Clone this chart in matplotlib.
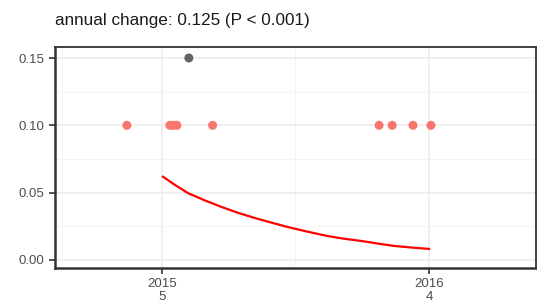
import numpy as np
import matplotlib
matplotlib.use("Agg")
import matplotlib.pyplot as plt
from matplotlib.ticker import MultipleLocator

# observed points (decimal year, value)
obs_year = [2014.869, 2015.030, 2015.041, 2015.056, 2015.190,
            2015.813, 2015.862, 2015.940, 2016.007]
obs_value = [0.10] * 9
flag_year = [2015.101]
flag_value = [0.15]

# fitted trend
fit_year = [2015.004, 2015.050, 2015.097, 2015.160, 2015.224, 2015.285,
            2015.347, 2015.410, 2015.470, 2015.545, 2015.619, 2015.680,
            2015.746, 2015.810, 2015.869, 2015.935, 2016.000]
fit_value = [0.0618, 0.0556, 0.0497, 0.0443, 0.0393, 0.0350,
             0.0312, 0.0277, 0.0245, 0.0210, 0.0178, 0.0158,
             0.0141, 0.0121, 0.0104, 0.0092, 0.0082]

year_ticks = [2015, 2016]
year_counts = [5, 4]
title = "annual change: 0.125 (P < 0.001)"

plt.rcParams['font.family'] = ['Liberation Sans', 'DejaVu Sans']

fig = plt.figure(figsize=(5.37, 3.05), dpi=100)
ax = fig.add_axes([0.1024, 0.1213, 0.8956, 0.7247])

ax.set_xlim(2014.60, 2016.40)
ax.set_ylim(-0.006, 0.1582)

ax.xaxis.set_major_locator(MultipleLocator(1))
ax.xaxis.set_minor_locator(MultipleLocator(0.5))
ax.yaxis.set_major_locator(MultipleLocator(0.05))
ax.yaxis.set_minor_locator(MultipleLocator(0.025))
ax.grid(which='major', color='#EBEBEB', linewidth=1.1)
ax.grid(which='minor', color='#F2F2F2', linewidth=0.6)
ax.set_axisbelow(True)

ax.scatter(obs_year, obs_value, s=42, color='#F8766D', edgecolors='none', zorder=3)
ax.scatter(flag_year, flag_value, s=42, color='#636363', edgecolors='none', zorder=3)
ax.plot(fit_year, fit_value, color='#FF0000', linewidth=1.6, zorder=4,
        solid_joinstyle='round')

ax.set_xticks(year_ticks)
ax.set_xticklabels([f"{y}\n{c}" for y, c in zip(year_ticks, year_counts)],
                   linespacing=1.12)
ax.set_yticks([0.0, 0.05, 0.10, 0.15])
ax.set_yticklabels(['0.00', '0.05', '0.10', '0.15'])
ax.tick_params(which='major', direction='out', length=4.5, width=1.2,
               color='#333333', labelcolor='#4D4D4D', labelsize=9.5, pad=3.5)
ax.tick_params(axis='x', which='major', pad=2.5)
ax.tick_params(which='minor', length=0)

for side in ax.spines.values():
    side.set_color('#333333')
    side.set_linewidth(1.3)
ax.spines['bottom'].set_linewidth(1.8)
ax.spines['left'].set_linewidth(1.8)

fig.text(55 / 537, 1 - 21 / 305, title, fontsize=12.3, color='#1A1A1A',
         ha='left', va='center')

fig.savefig("out.png", dpi=100)
